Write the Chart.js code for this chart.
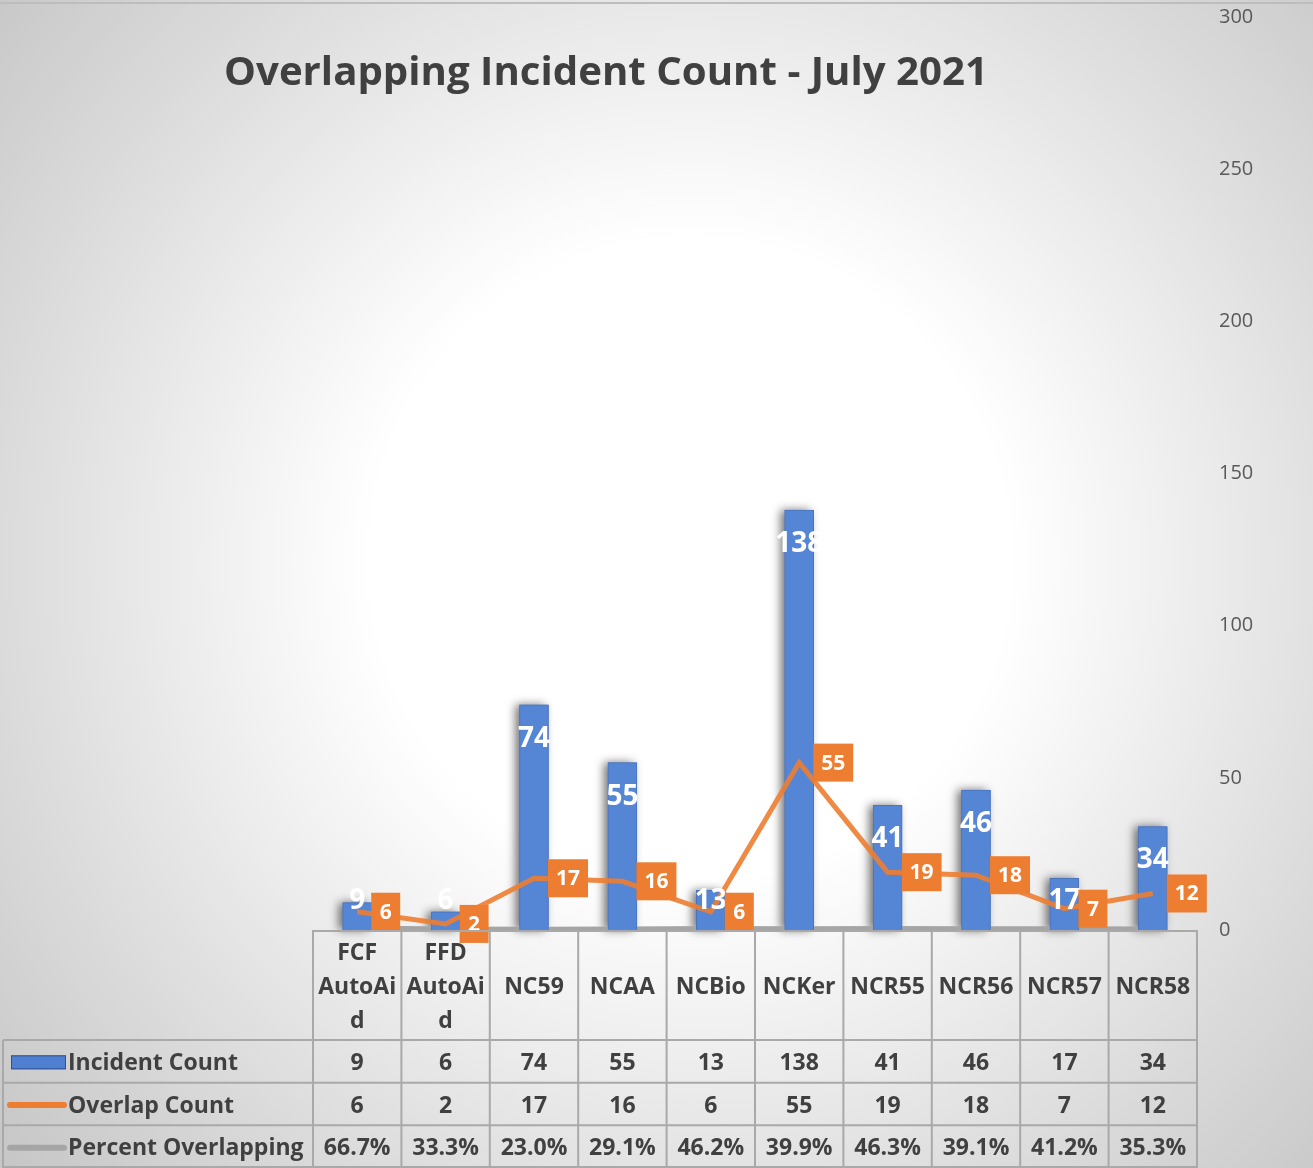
<!DOCTYPE html>
<html><head><meta charset="utf-8">
<script src="https://cdn.jsdelivr.net/npm/chart.js@4.4.1/dist/chart.umd.min.js"></script>
<style>
html,body{margin:0;padding:0;}
body{width:1313px;height:1168px;overflow:hidden;position:relative;
background:radial-gradient(circle at 690px 560px,#ffffff 0px,#ffffff 320px,#dcdcdc 680px,#c3c3c3 950px);}
canvas{display:block;position:absolute;left:0;top:0;}
#topline{position:absolute;left:0;top:2px;width:1313px;height:2px;background:#bdbdbd;}
</style></head><body>
<div id="topline"></div>
<canvas id="c" width="1313" height="1168"></canvas>
<script>
const chartTitle = "Overlapping Incident Count - July 2021";
const categories = ["FCF AutoAid","FFD AutoAid","NC59","NCAA","NCBio","NCKer","NCR55","NCR56","NCR57","NCR58"];
const incidentCount = [9,6,74,55,13,138,41,46,17,34];
const overlapCount = [6,2,17,16,6,55,19,18,7,12];
const percentOverlapping = [0.667,0.333,0.230,0.291,0.462,0.399,0.463,0.391,0.412,0.353];
const seriesNames = ["Incident Count","Overlap Count","Percent Overlapping"];
const yMin = 0, yMax = 300, yStep = 50;

const FONT = "'Open Sans', Lato, sans-serif";
const TXT = "#404040";

function wrapLabel(s){
  const lines = [];
  s.split(" ").forEach(w=>{
    while (w.length > 6){ lines.push(w.slice(0,6)); w = w.slice(6); }
    lines.push(w);
  });
  while (lines.length < 3){ lines.unshift(""); if (lines.length < 3) lines.push(""); }
  return lines;
}

const shadowPlugin = {
  id:'barShadow',
  beforeDatasetsDraw(chart){
    const ctx=chart.ctx;
    const bars=chart.getDatasetMeta(0).data;
    ctx.save();
    bars.forEach(b=>{
      const w=b.width, x0=b.x-w/2, top=b.y, h=b.base-b.y;
      ctx.shadowColor='rgba(0,0,0,0.55)'; ctx.shadowBlur=10; ctx.shadowOffsetX=-4; ctx.shadowOffsetY=0;
      ctx.fillStyle='#5483D3';
      ctx.fillRect(x0, top, w, h);
    });
    ctx.restore();
  }
};

const labelPlugin = {
  id:'labels',
  afterDatasetsDraw(chart){
    const ctx=chart.ctx;
    const bars=chart.getDatasetMeta(0).data;
    const pts=chart.getDatasetMeta(1).data;
    const base=chart.chartArea.bottom;
    ctx.save();
    ctx.textAlign='center'; ctx.textBaseline='middle';
    ctx.font="bold 28px "+FONT; ctx.fillStyle='#ffffff';
    bars.forEach((b,i)=>{
      const y=Math.min(b.y+34, base-29);
      ctx.fillText(String(incidentCount[i]), b.x, y);
    });
    ctx.font="bold 21px "+FONT;
    pts.forEach((p,i)=>{
      const t=String(overlapCount[i]);
      const w=Math.max(ctx.measureText(t).width+16, 29);
      const h=38;
      const x0=p.x+14, y0=p.y-h/2;
      ctx.fillStyle='#ED7D31'; ctx.fillRect(x0,y0,w,h);
      ctx.fillStyle='#ffffff'; ctx.fillText(t, x0+w/2, p.y+1);
    });
    ctx.restore();
  }
};

const tablePlugin = {
  id:'dataTable',
  afterDraw(chart){
    const ctx=chart.ctx, ca=chart.chartArea, xs=chart.scales.x;
    const n=categories.length, cw=(ca.right-ca.left)/n;
    const top=ca.bottom, hdrBottom=xs.bottom, bottom=chart.height;
    const rh=(bottom-hdrBottom)/3;
    const leftX=3;
    ctx.save();
    ctx.strokeStyle='#a9a9a9'; ctx.lineWidth=2;
    ctx.beginPath();
    ctx.moveTo(ca.left, top+1); ctx.lineTo(ca.right, top+1);
    for (let r=0;r<=3;r++){
      const y=hdrBottom+r*rh - (r===3?1:0);
      ctx.moveTo(leftX,y); ctx.lineTo(ca.right,y);
    }
    for (let i=0;i<=n;i++){
      const x=ca.left+i*cw;
      ctx.moveTo(x,top); ctx.lineTo(x,bottom);
    }
    ctx.moveTo(leftX,hdrBottom); ctx.lineTo(leftX,bottom);
    ctx.stroke();
    ctx.fillStyle=TXT; ctx.font="bold 23px "+FONT; ctx.textAlign='center'; ctx.textBaseline='middle';
    const rows=[incidentCount.map(String), overlapCount.map(String), percentOverlapping.map(v=>(v*100).toFixed(1)+'%')];
    rows.forEach((row,r)=>{
      const cy=hdrBottom+r*rh+rh/2+2;
      row.forEach((t,i)=>ctx.fillText(t, ca.left+(i+0.5)*cw, cy));
    });
    ctx.textAlign='left';
    seriesNames.forEach((s,r)=>{
      const cy=hdrBottom+r*rh+rh/2+2;
      ctx.fillStyle=TXT; ctx.fillText(s, 68, cy);
      if (r===0){
        ctx.fillStyle='#4f7fd0'; ctx.fillRect(11,cy-8,55,14);
        ctx.strokeStyle='#2f528f'; ctx.lineWidth=1; ctx.strokeRect(11.5,cy-7.5,54,13);
      } else {
        ctx.strokeStyle= r===1 ? '#ED7D31' : '#A5A5A5'; ctx.lineWidth=6; ctx.lineCap='round';
        ctx.beginPath(); ctx.moveTo(10,cy-1); ctx.lineTo(64,cy-1); ctx.stroke();
      }
    });
    ctx.fillStyle=TXT; ctx.textAlign='center';
    ctx.font="bold 40px "+FONT;
    const fs=40*764/ctx.measureText(chartTitle).width;
    ctx.font="bold "+fs.toFixed(1)+"px "+FONT;
    ctx.fillText(chartTitle, 606, 74);
    ctx.restore();
  }
};

new Chart(document.getElementById('c'), {
  data:{
    labels:categories,
    datasets:[
      {type:'bar', label:seriesNames[0], data:incidentCount, backgroundColor:'#5585D5', borderColor:'#4a74bd', borderWidth:1, barThickness:29, order:1},
      {type:'line', label:seriesNames[1], data:overlapCount, borderColor:'rgba(237,125,49,0.9)', borderWidth:5, pointRadius:0, tension:0, order:0},
      {type:'line', label:seriesNames[2], data:percentOverlapping, borderColor:'#A5A5A5', borderWidth:5, pointRadius:0, tension:0, order:2}
    ]
  },
  options:{
    responsive:false, animation:false, devicePixelRatio:1,
    layout:{padding:{left:313, top:17, right:0, bottom:128}},
    plugins:{legend:{display:false}, tooltip:{enabled:false}, title:{display:false}},
    scales:{
      x:{offset:true, grid:{display:false, drawTicks:false}, border:{display:false},
        ticks:{autoSkip:false, maxRotation:0, minRotation:0, padding:6, color:TXT,
          font:{family:FONT, size:23, weight:'bold', lineHeight:'34px'},
          callback:(v,i)=>wrapLabel(categories[i])},
        afterFit:s=>{s.height=110; s.paddingLeft=0; s.paddingRight=0;}},
      y:{position:'right', min:yMin, max:yMax, grid:{display:false, drawTicks:false}, border:{display:false},
        ticks:{stepSize:yStep, padding:22, color:'#595959', font:{family:FONT, size:20}},
        afterFit:s=>{s.width=116; s.paddingTop=0; s.paddingBottom=0;}}
    }
  },
  plugins:[shadowPlugin, labelPlugin, tablePlugin]
});
</script></body></html>
